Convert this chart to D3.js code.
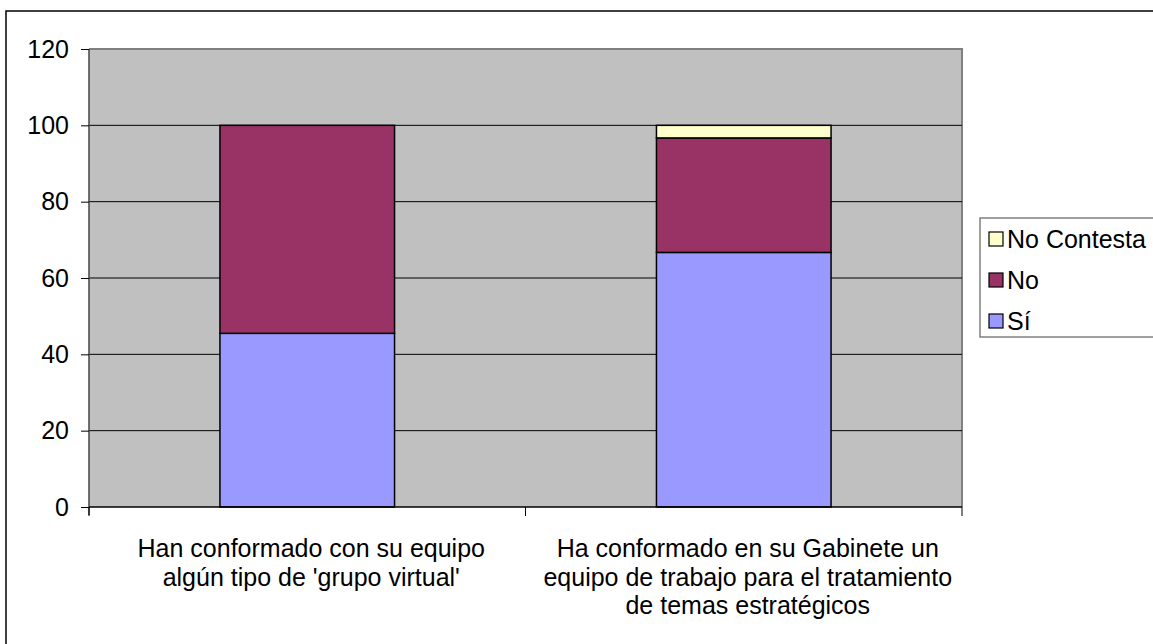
<!doctype html>
<html>
<head>
<meta charset="utf-8">
<script src="https://d3js.org/d3.v7.min.js"></script>
<style>
  body { margin: 0; background: #fff; }
  svg { display: block; font-family: "Liberation Sans", Arial, sans-serif; }
</style>
</head>
<body>
<svg id="chart" width="1153" height="644"></svg>
<script>
// chart data
const categories = [
  ["Han conformado con su equipo", "algún tipo de 'grupo virtual'"],
  ["Ha conformado en su Gabinete un", "equipo de trabajo para el tratamiento", "de temas estratégicos"]
];
const seriesNames = ["Sí", "No", "No Contesta"];
const siValues = [45.5, 66.7];
const noValues = [54.5, 30.0];
const ncValues = [0, 3.3];
const yTicks = [0, 20, 40, 60, 80, 100, 120];
const colors = ["#9999ff", "#993366", "#ffffcc"];

const fontSize = 25;
const svg = d3.select("#chart");

// outer chart frame (runs off the right/bottom edge)
svg.append("rect")
  .attr("x", 6).attr("y", 11)
  .attr("width", 1170).attr("height", 660)
  .attr("fill", "#fff").attr("stroke", "#000").attr("stroke-width", 1.5);

const plot = {left: 89, top: 49, right: 962, bottom: 507};

const x = d3.scaleBand()
  .domain(d3.range(categories.length))
  .range([plot.left, plot.right])
  .paddingInner(0.6).paddingOuter(0.3);

const y = d3.scaleLinear()
  .domain([0, 120])
  .range([plot.bottom, plot.top]);

// plot area background
svg.append("rect")
  .attr("x", plot.left).attr("y", plot.top)
  .attr("width", plot.right - plot.left).attr("height", plot.bottom - plot.top)
  .attr("fill", "#c0c0c0");

svg.append("path")
  .attr("d", `M${plot.left},${plot.top}H${plot.right}V${plot.bottom}`)
  .attr("fill", "none").attr("stroke", "#808080").attr("stroke-width", 2);

// gridlines
svg.append("g")
  .selectAll("line")
  .data(yTicks.filter(d => d > 0 && d < 120))
  .join("line")
    .attr("x1", plot.left).attr("x2", plot.right)
    .attr("y1", d => y(d)).attr("y2", d => y(d))
    .attr("stroke", "#000").attr("stroke-width", 1);

// stacked bars
const stackData = categories.map((c, i) => ({
  idx: i, "Sí": siValues[i], "No": noValues[i], "No Contesta": ncValues[i]
}));
const stacked = d3.stack().keys(seriesNames)(stackData);

svg.append("g")
  .selectAll("g")
  .data(stacked)
  .join("g")
    .attr("fill", (d, i) => colors[i])
  .selectAll("rect")
  .data(d => d.filter(s => s[1] - s[0] > 0))
  .join("rect")
    .attr("x", d => x(d.data.idx))
    .attr("width", x.bandwidth())
    .attr("y", d => y(d[1]))
    .attr("height", d => y(d[0]) - y(d[1]))
    .attr("stroke", "#000").attr("stroke-width", 1.5);

// y axis
const yAxis = svg.append("g")
  .attr("transform", `translate(${plot.left},0)`)
  .call(d3.axisLeft(y).tickValues(yTicks).tickSize(8).tickPadding(12));
yAxis.select(".domain").attr("stroke", "#444").attr("stroke-width", 1.5)
  .attr("d", `M0,${plot.top}V${plot.bottom + 8}`);
yAxis.selectAll(".tick line").attr("stroke", "#000");
yAxis.selectAll("text")
  .attr("font-size", fontSize).attr("fill", "#000")
  .attr("font-family", "Liberation Sans, Arial, sans-serif");

// x axis
const xEdges = [plot.left, (plot.left + plot.right) / 2, plot.right];
svg.append("line")
  .attr("x1", plot.left).attr("x2", plot.right)
  .attr("y1", plot.bottom).attr("y2", plot.bottom)
  .attr("stroke", "#000").attr("stroke-width", 1.5);
svg.append("g")
  .selectAll("line")
  .data(xEdges)
  .join("line")
    .attr("x1", d => d).attr("x2", d => d)
    .attr("y1", plot.bottom).attr("y2", plot.bottom + 9)
    .attr("stroke", "#000");

// category labels
svg.append("g")
  .selectAll("text")
  .data(categories)
  .join("text")
    .attr("text-anchor", "middle")
    .attr("font-size", fontSize)
    .attr("fill", "#000")
    .each(function(lines, i) {
      d3.select(this).selectAll("tspan")
        .data(lines)
        .join("tspan")
          .attr("x", x(i) + x.bandwidth() / 2 + 4)
          .attr("y", (d, j) => 557 + j * 28.5)
          .text(d => d);
    });

// legend
const legend = svg.append("g");
legend.append("rect")
  .attr("x", 980).attr("y", 218)
  .attr("width", 200).attr("height", 119)
  .attr("fill", "#fff").attr("stroke", "#808080").attr("stroke-width", 1.5);

const legendOrder = [2, 1, 0];
const item = legend.selectAll(".item")
  .data(legendOrder)
  .join("g")
    .attr("class", "item")
    .attr("transform", (d, i) => `translate(989,${239 + i * 41})`);
item.append("rect")
  .attr("x", 0).attr("y", -7)
  .attr("width", 14).attr("height", 14)
  .attr("fill", d => colors[d])
  .attr("stroke", "#000").attr("stroke-width", 1.2);
item.append("text")
  .attr("x", 18).attr("y", 9)
  .attr("font-size", fontSize)
  .attr("fill", "#000")
  .text(d => seriesNames[d]);
</script>
</body>
</html>
